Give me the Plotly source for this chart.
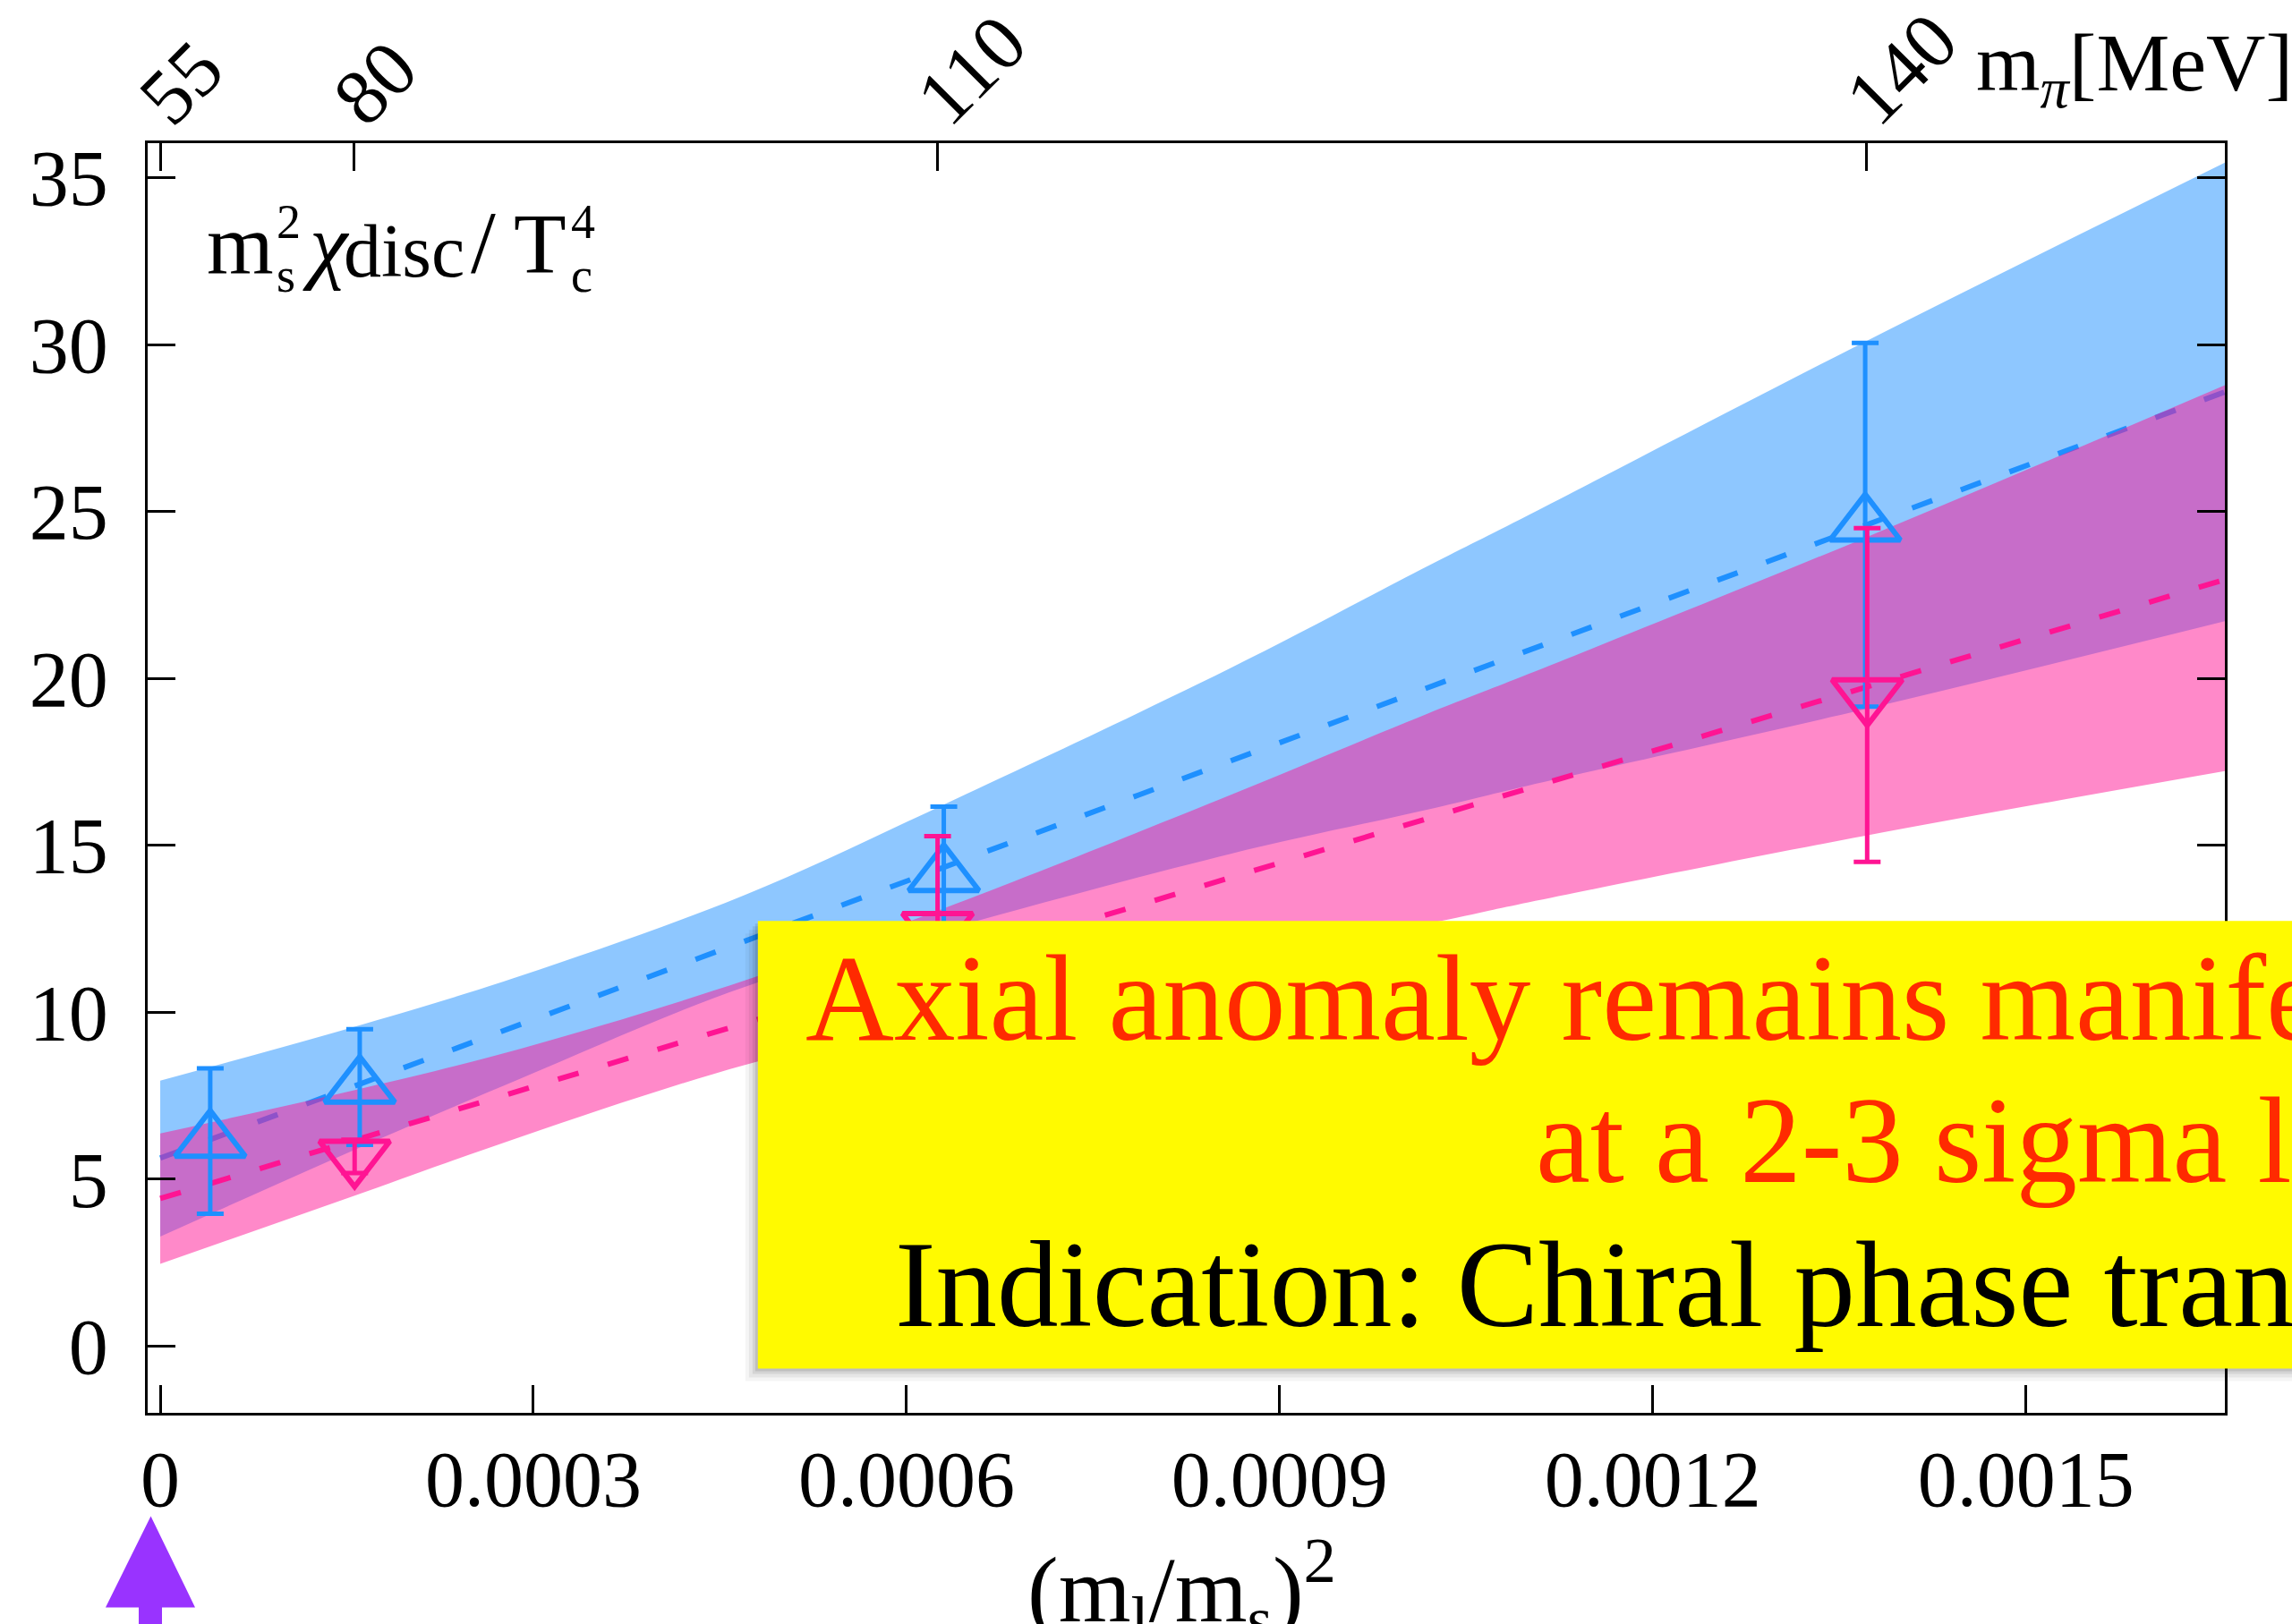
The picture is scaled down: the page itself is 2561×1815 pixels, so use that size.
import plotly.graph_objects as go

# ---------------- data ----------------
# blue (up triangles)
blue_x = [0.0000402, 0.0001604, 0.00063, 0.0013708]
blue_y = [6.14, 7.76, 14.1, 24.6]
blue_err = [2.18, 1.73, 2.06, 5.45]
# pink (down triangles)
pink_x = [0.0001563, 0.000625, 0.0013724]
pink_y = [5.68, 12.5, 19.5]
pink_err = [0.5, 2.77, 5.0]

# error bands of the fits (edges)
band_x = [0, 0.000165, 0.00029, 0.00047, 0.00063, 0.00086, 0.00102, 0.00110, 0.00137, 0.00166]
blue_hi = [7.95, 9.66, 11.09, 13.51, 16.22, 20.30, 23.38, 24.89, 30.07, 35.45]
blue_lo = [3.28, 6.02, 8.02, 10.76, 12.46, 14.74, 16.08, 16.79, 19.07, 21.71]
pink_hi = [6.37, 7.74, 8.91, 10.95, 13.11, 16.50, 18.96, 20.13, 24.2, 28.78]
pink_lo = [2.46, 4.62, 6.27, 8.42, 9.81, 11.56, 12.66, 13.29, 15.28, 17.22]

# central fit lines
fit_x = [0, 0.00166]
blue_fit = [5.63, 28.58]
pink_fit = [4.42, 22.96]

# axes
x_ticks = [0, 0.0003, 0.0006, 0.0009, 0.0012, 0.0015]
x_ticktext = ["0", "0.0003", "0.0006", "0.0009", "0.0012", "0.0015"]
y_ticks = [0, 5, 10, 15, 20, 25, 30, 35]
mpi_ticks = [0.0, 0.000156, 0.000625, 0.001372]
mpi_text = ["55", "80", "110", "140"]

BLUE = "#1e90ff"
PINK = "#ff1493"
FONT = "Liberation Serif"

W, H = 2561, 1815
L, R, T, B = 165, 75.4, 160, 235.5
PW = W - L - R
PH = H - T - B


def pxx(x):
    return (x - L) / PW


def pxy(y):
    return (H - B - y) / PH


fig = go.Figure()

# blue band + blue fit line
fig.add_trace(go.Scatter(x=band_x, y=blue_lo, mode="lines",
                         line=dict(width=0, shape="spline", color="rgba(0,0,0,0)"),
                         hoverinfo="skip"))
fig.add_trace(go.Scatter(x=band_x, y=blue_hi, mode="lines", fill="tonexty",
                         fillcolor="rgba(30,144,255,0.5)",
                         line=dict(width=0, shape="spline", color="rgba(0,0,0,0)"),
                         hoverinfo="skip"))
fig.add_trace(go.Scatter(x=fit_x, y=blue_fit, mode="lines",
                         line=dict(color=BLUE, width=6, dash="24px,34px")))
# pink band + pink fit line
fig.add_trace(go.Scatter(x=band_x, y=pink_lo, mode="lines",
                         line=dict(width=0, shape="spline", color="rgba(0,0,0,0)"),
                         hoverinfo="skip"))
fig.add_trace(go.Scatter(x=band_x, y=pink_hi, mode="lines", fill="tonexty",
                         fillcolor="rgba(255,20,147,0.5)",
                         line=dict(width=0, shape="spline", color="rgba(0,0,0,0)"),
                         hoverinfo="skip"))
fig.add_trace(go.Scatter(x=fit_x, y=pink_fit, mode="lines",
                         line=dict(color=PINK, width=6, dash="24px,34px")))

# data points
fig.add_trace(go.Scatter(
    x=blue_x, y=blue_y, mode="markers",
    marker=dict(symbol="triangle-up-open", size=68, color=BLUE,
                line=dict(color=BLUE, width=6)),
    error_y=dict(type="data", array=blue_err, color=BLUE, thickness=5, width=15)))
fig.add_trace(go.Scatter(
    x=pink_x, y=pink_y, mode="markers",
    marker=dict(symbol="triangle-down-open", size=68, color=PINK,
                line=dict(color=PINK, width=6)),
    error_y=dict(type="data", array=pink_err, color=PINK, thickness=5, width=15)))

# invisible trace for top axis
fig.add_trace(go.Scatter(x=[mpi_ticks[0]], y=[0], xaxis="x2", mode="markers",
                         marker=dict(opacity=0), hoverinfo="skip"))

axis_font = dict(family=FONT, size=88, color="black")

fig.update_layout(
    template="none",
    width=W, height=H,
    margin=dict(l=L, r=R, t=T, b=B, pad=0, autoexpand=False),
    paper_bgcolor="white", plot_bgcolor="white",
    showlegend=False,
    xaxis=dict(range=[-0.0000101, 0.00166], tickvals=x_ticks, ticktext=x_ticktext,
               ticks="inside", ticklen=31, tickwidth=2.5, tickcolor="black",
               showline=True, linecolor="black", linewidth=2.5, mirror=True,
               showgrid=False, zeroline=False, tickfont=axis_font,
               ticklabelstandoff=-4, automargin=False),
    xaxis2=dict(range=[-0.0000101, 0.00166], overlaying="x", side="top",
                tickvals=mpi_ticks, ticktext=mpi_text, tickangle=-45,
                ticks="inside", ticklen=31, tickwidth=2.5, tickcolor="black",
                showline=False, showgrid=False, zeroline=False, tickfont=axis_font,
                ticklabelstandoff=-16, ticklabelshift=-18, automargin=False),
    yaxis=dict(range=[-2.0, 36.03], tickvals=y_ticks,
               ticks="inside", ticklen=31, tickwidth=2.5, tickcolor="black",
               showline=True, linecolor="black", linewidth=2.5, mirror="ticks",
               showgrid=False, zeroline=False, tickfont=axis_font,
               ticklabelstandoff=24, automargin=False),
)

ann = []


def text_at(txt, x, baseline, size, color="black", anchor="left"):
    ann.append(dict(text=txt, x=pxx(x), y=pxy(baseline - 0.34 * size),
                    xref="paper", yref="paper", xanchor=anchor, yanchor="middle",
                    showarrow=False, font=dict(family=FONT, size=size, color=color)))


# y label inside plot (stacked sub/superscripts)
text_at("m", 229, 305, 96)
text_at("2", 307, 266, 54)
text_at("s", 307, 326, 54)
text_at("<i>χ</i>", 336, 305, 96)
text_at("disc", 382, 309, 84)
text_at("/", 524, 305, 100)
text_at("T", 572, 305, 96)
text_at("4", 636, 266, 54)
text_at("c", 636, 326, 54)

# top right axis label
text_at("m<sub><i>π</i></sub>[MeV]", 2564, 108, 92, anchor="right")

# bottom axis label
text_at("(m<sub>l</sub>/m<sub>s</sub>)<sup>2</sup>", 1320, 1812, 104, anchor="center")

# yellow message box with shadow
box_x0, box_x1, box_y0, box_y1 = 846.7, 2700, 1029.6, 1530
shapes = []
for off, a in [(14, 0.04), (10, 0.06), (6, 0.08), (3, 0.10)]:
    shapes.append(dict(type="rect", xref="paper", yref="paper",
                       x0=pxx(box_x0 - off), x1=pxx(box_x1),
                       y0=pxy(box_y1 + off), y1=pxy(box_y0 + off),
                       fillcolor=f"rgba(0,0,0,{a})", line=dict(width=0), layer="above"))
shapes.append(dict(type="rect", xref="paper", yref="paper",
                   x0=pxx(box_x0), x1=pxx(box_x1), y0=pxy(box_y1), y1=pxy(box_y0),
                   fillcolor="#fffa00", line=dict(width=0), layer="above"))

# purple arrow at bottom-left
ax_pts = [(168.5, 1695), (218, 1797), (181, 1797), (181, 1830), (155, 1830), (155, 1797), (118, 1797)]
path = "M " + " L ".join(f"{pxx(a)},{pxy(b)}" for a, b in ax_pts) + " Z"
shapes.append(dict(type="path", xref="paper", yref="paper", path=path,
                   fillcolor="#9933ff", line=dict(width=0), layer="above"))

text_at("Axial anomaly remains manifested", 898, 1163, 137, color="#ff2a00")
text_at("at a 2-3 sigma level", 1714, 1322, 137, color="#ff2a00")
text_at("Indication: Chiral phase transition", 998, 1483, 137, color="black")

fig.update_layout(annotations=ann, shapes=shapes)

fig.write_html("out.html", config={"displayModeBar": False},
               post_script="document.body.style.margin='0';document.body.style.overflow='hidden';")
